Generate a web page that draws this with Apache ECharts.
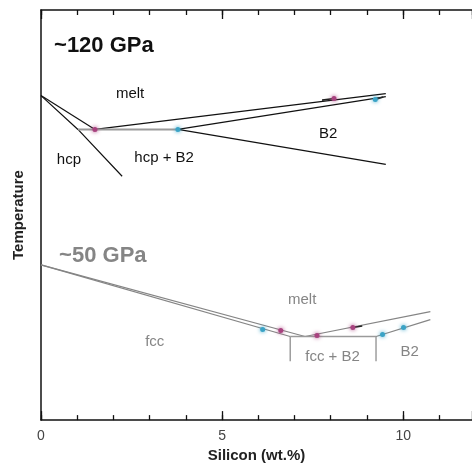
<!DOCTYPE html>
<html>
<head>
<meta charset="utf-8">
<script src="https://cdn.jsdelivr.net/npm/echarts@6/dist/echarts.min.js"></script>
<style>html,body{margin:0;padding:0;background:#fff;}#c{width:472px;height:468px;}</style>
</head>
<body>
<div id="c"></div>
<script>
// ---- Data (x: Silicon wt.%, y: relative temperature units) ----
const xTickLabels = [0, 5, 10];

// ~120 GPa phase boundaries
const hcpLiquidus120 = [[0, 326], [1.49, 292]];
const hcpSolidus120 = [[0, 326], [1.02, 292], [2.24, 245]];
const eutectic120 = [[1.02, 292], [3.78, 292]];
const b2Liquidus120 = [[1.49, 292], [9.52, 328]];
const b2Solidus120 = [[3.78, 292], [9.52, 325]];
const b2Solvus120 = [[3.78, 292], [9.52, 257]];

// ~50 GPa phase boundaries
const fccLiquidus50 = [[0, 156], [7.29, 84]];
const fccSolidus50 = [[0, 156], [6.88, 84]];
const eutectic50 = [[6.88, 84], [9.25, 84]];
const fccBoundary50 = [[6.88, 84], [6.88, 59]];
const b2Boundary50 = [[9.25, 84], [9.25, 59]];
const b2Liquidus50 = [[7.29, 84], [10.75, 109]];
const b2Solidus50 = [[9.25, 84], [10.75, 101]];

// measured points
const magenta120 = [[1.49, 292], [8.09, 323]];
const cyan120 = [[3.78, 292], [9.23, 322]];
const magenta50 = [[6.62, 90], [7.62, 85], [8.61, 93]];
const cyan50 = [[6.12, 91], [9.43, 86], [10.01, 93]];

// short dark error segments on the measured points
const errSegments = [
  [[7.76, 321.5], [8.04, 322.8]],
  [[9.23, 322], [9.45, 324.5]],
  [[8.61, 93], [8.87, 94.5]]
];

// region / pressure labels
const labels120 = ['~120 GPa', 'melt', 'B2', 'hcp', 'hcp + B2'];
const labels50 = ['~50 GPa', 'melt', 'fcc', 'fcc + B2', 'B2'];

// ---- layout of annotations (positions in data units) ----
const labelPos120 = [[0.36, 376], [2.46, 328], [7.93, 288], [0.77, 261], [3.40, 263]];
const labelPos50 = [[0.50, 165], [7.21, 121], [3.14, 79], [8.05, 64], [10.18, 69]];

const DARK = '#111111';
const GRAY = '#858585';
const LGRAY = '#9a9a9a';
const MAG = '#a8427f';
const CYAN = '#3aa3c6';
const FONT = 'Liberation Sans, Arial, Helvetica, sans-serif';

function lineSeries(data, color, width) {
  return {
    type: 'line', data: data, symbol: 'none', silent: true,
    lineStyle: { color: color, width: width }, z: 2
  };
}
function pointSeries(data, color) {
  return {
    type: 'scatter', data: data, symbol: 'circle', symbolSize: 5, z: 5,
    itemStyle: { color: color, opacity: 1, shadowBlur: 4, shadowColor: color }
  };
}
function labelSeries(names, pos, color, boldFirst) {
  return {
    type: 'scatter', symbolSize: 0, z: 6, silent: true,
    itemStyle: { color: color, opacity: 1 },
    data: names.map((n, i) => ({
      value: pos[i], name: n,
      label: (boldFirst && i === 0) ? {
        align: 'left', fontSize: 22, fontWeight: 'bold', color: color
      } : {}
    })),
    label: {
      show: true, position: 'inside', formatter: p => p.name,
      fontFamily: FONT, fontSize: 15, color: color,
      textBorderWidth: 0, textBorderColor: 'transparent',
      align: 'center', verticalAlign: 'middle'
    }
  };
}

const series = [];
[hcpLiquidus120, hcpSolidus120, b2Liquidus120, b2Solidus120, b2Solvus120]
  .forEach(d => series.push(lineSeries(d, DARK, 1.2)));
series.push(lineSeries(eutectic120, LGRAY, 2));
[fccLiquidus50, fccSolidus50, b2Liquidus50, b2Solidus50, fccBoundary50, b2Boundary50]
  .forEach(d => series.push(lineSeries(d, GRAY, 1.2)));
series.push(lineSeries(eutectic50, LGRAY, 1.6));
errSegments.forEach(d => { const s = lineSeries(d, '#222', 1.6); s.z = 4; series.push(s); });
series.push(pointSeries(magenta120, MAG));
series.push(pointSeries(cyan120, CYAN));
series.push(pointSeries(magenta50, MAG));
series.push(pointSeries(cyan50, CYAN));
series.push(labelSeries(labels120, labelPos120, DARK, true));
series.push(labelSeries(labels50, labelPos50, GRAY, true));

const XMIN = 0, XMAX = 11.9;
function xAx(pos, interval, len, showLine, showLabel) {
  return {
    type: 'value', position: pos, min: XMIN, max: XMAX, interval: interval,
    axisLine: { show: showLine, lineStyle: { color: '#111', width: 1.5 } },
    axisTick: { show: true, inside: true, length: len, lineStyle: { color: '#111', width: 1.3 } },
    splitLine: { show: false },
    axisLabel: showLabel ? {
      show: true, margin: 9, fontFamily: FONT, fontSize: 14, color: '#444',
      showMaxLabel: false,
      formatter: v => (xTickLabels.indexOf(v) >= 0 ? String(v) : '')
    } : { show: false }
  };
}

const bottomAxis = xAx('bottom', 1, 5, true, true);
bottomAxis.name = 'Silicon (wt.%)';
bottomAxis.nameLocation = 'middle';
bottomAxis.nameGap = 27;
bottomAxis.nameTextStyle = { fontFamily: FONT, fontSize: 15, fontWeight: 'bold', color: '#222' };

const chart = echarts.init(document.getElementById('c'), null, { renderer: 'canvas' });
chart.setOption({
  animation: false,
  backgroundColor: '#fff',
  grid: { left: 41, top: 10, bottom: 46, right: 0, containLabel: false },
  xAxis: [
    bottomAxis,
    xAx('bottom', 5, 9, false, false),
    xAx('top', 1, 5, true, false),
    xAx('top', 5, 9, false, false)
  ],
  yAxis: {
    type: 'value', min: 0, max: 412,
    axisLine: { show: true, lineStyle: { color: '#111', width: 1.5 } },
    axisTick: { show: false }, axisLabel: { show: false }, splitLine: { show: false },
    name: 'Temperature', nameLocation: 'middle', nameGap: 15, nameRotate: 90,
    nameTextStyle: { fontFamily: FONT, fontSize: 15, fontWeight: 'bold', color: '#222' }
  },
  series: series
});
</script>
</body>
</html>
